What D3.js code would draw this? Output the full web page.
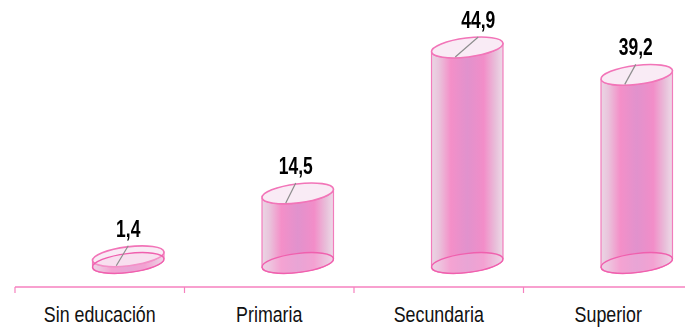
<!DOCTYPE html>
<html><head><meta charset="utf-8">
<script src="https://cdn.jsdelivr.net/npm/d3@7"></script>
<style>html,body{margin:0;background:#fff}svg{display:block}
text{font-family:"Liberation Sans",Arial,sans-serif}</style>
</head><body><script>
const categories = ["Sin educación","Primaria","Secundaria","Superior"];
const values = [1.4,14.5,44.9,39.2];
const valueLabels = ["1,4","14,5","44,9","39,2"];
const labelShift = [0,-2,11,-1];

const W=685,H=327,rx=36,ry=9.5,tilt=-7;
const svg=d3.select("body").append("svg").attr("width",W).attr("height",H);
const defs=svg.append("defs");
const g=defs.append("linearGradient").attr("id","body");
[[0,"#ead6e4"],[.1,"#e9c4dc"],[.27,"#f48fc8"],[.5,"#e192cd"],[.73,"#f28dc8"],[.9,"#e8c0da"],[1,"#eedbe8"]]
 .forEach(d=>g.append("stop").attr("offset",d[0]).attr("stop-color",d[1]));
defs.append("filter").attr("id","soft").append("feGaussianBlur").attr("stdDeviation",.55);

const x=d3.scaleBand().domain(categories).range([15,693]);
const y=d3.scaleLinear().domain([0,44.9]).range([263,47.5]);
const barShift=28.5;
const cx=c=>x(c)+x.bandwidth()/2+barShift;

const axis=d3.axisBottom(x).tickSize(0);
const ax=svg.append("g").attr("transform","translate(0,287)").call(axis);
ax.select(".domain").remove();
ax.append("line").attr("x1",15).attr("x2",W).attr("stroke","#f681bf").attr("stroke-width",1.4);
categories.forEach(c=>ax.append("line").attr("x1",x(c)).attr("x2",x(c)).attr("y2",6).attr("stroke","#f681bf").attr("stroke-width",1.2));
ax.selectAll(".tick text").attr("font-size",22).attr("fill","#111").attr("y",0).attr("dy",0)
  .attr("transform","translate(0,35) scale(.81,1)");

const dx=rx*Math.cos(tilt*Math.PI/180), dy=rx*Math.sin(tilt*Math.PI/180);
const marks=svg.append("g").attr("filter","url(#soft)");
categories.forEach((c,i)=>{
  const X=cx(c),T=y(values[i]),B=y(0);
  const m=marks.append("g");
  m.append("path")
   .attr("d",`M${X-dx},${T-dy}L${X-dx},${B-dy}A${rx},${ry} ${tilt} 0 0 ${X+dx},${B+dy}L${X+dx},${T+dy}A${rx},${ry} ${tilt} 0 1 ${X-dx},${T-dy}Z`)
   .attr("fill","url(#body)").attr("stroke","#f27cbc").attr("stroke-width",1.2);
  m.append("ellipse").attr("cx",X).attr("cy",T).attr("rx",rx).attr("ry",ry)
   .attr("transform",`rotate(${tilt} ${X} ${T})`)
   .attr("fill","#f9e9f4").attr("fill-opacity",.92).attr("stroke","#f274b8").attr("stroke-width",1.6);
  m.append("ellipse").attr("cx",X).attr("cy",B).attr("rx",rx).attr("ry",ry)
   .attr("transform",`rotate(${tilt} ${X} ${B})`)
   .attr("fill","#f6c8e4").attr("fill-opacity",.35).attr("stroke","#f060ae").attr("stroke-width",1.4);
  m.append("line").attr("x1",X+labelShift[i]).attr("y1",T-10.5).attr("x2",X-12).attr("y2",T+9.5)
   .attr("stroke","#8e8e8e").attr("stroke-width",1.2);
});
svg.append("g").selectAll("text").data(categories).join("text")
 .attr("transform",(c,i)=>`translate(${cx(c)+labelShift[i]},${y(values[i])-19.5}) scale(.76,1)`)
 .attr("text-anchor","middle").attr("font-size",23).attr("font-weight","bold").attr("fill","#000")
 .text((c,i)=>valueLabels[i]);
</script></body></html>
